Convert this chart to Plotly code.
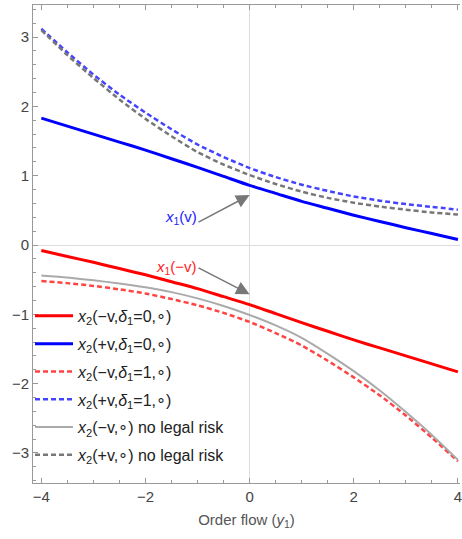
import plotly.graph_objects as go

# ---- data ----
y1 = [-4, -3.5, -3, -2.5, -2, -1.5, -1, -0.5, 0, 0.5, 1, 1.5, 2, 2.5, 3, 3.5, 4]

x2_minus_d0 = [-0.08, -0.165, -0.25, -0.34, -0.43, -0.53, -0.63, -0.745, -0.86,
               -0.99, -1.12, -1.245, -1.37, -1.485, -1.60, -1.715, -1.83]
x2_plus_d0 = [1.83, 1.715, 1.60, 1.485, 1.37, 1.245, 1.12, 0.99, 0.86,
              0.745, 0.63, 0.53, 0.43, 0.34, 0.25, 0.165, 0.08]
x2_minus_d1 = [-0.52, -0.55, -0.59, -0.64, -0.70, -0.78, -0.87, -0.98, -1.11,
               -1.27, -1.45, -1.67, -1.91, -2.17, -2.46, -2.78, -3.12]
x2_plus_d1 = [3.12, 2.78, 2.46, 2.17, 1.91, 1.67, 1.45, 1.27, 1.11,
              0.98, 0.87, 0.78, 0.70, 0.64, 0.59, 0.55, 0.51]
x2_minus_nolegal = [-0.44, -0.47, -0.51, -0.555, -0.61, -0.68, -0.77, -0.88, -1.01,
                    -1.16, -1.34, -1.57, -1.82, -2.10, -2.41, -2.74, -3.10]
x2_plus_nolegal = [3.10, 2.74, 2.41, 2.10, 1.82, 1.57, 1.34, 1.16, 1.01,
                   0.88, 0.77, 0.68, 0.61, 0.555, 0.51, 0.47, 0.44]

legend_names = [
    "<i>x</i><sub>2</sub>(−v,<i>δ</i><sub>1</sub>=0,∘)",
    "<i>x</i><sub>2</sub>(+v,<i>δ</i><sub>1</sub>=0,∘)",
    "<i>x</i><sub>2</sub>(−v,<i>δ</i><sub>1</sub>=1,∘)",
    "<i>x</i><sub>2</sub>(+v,<i>δ</i><sub>1</sub>=1,∘)",
    "<i>x</i><sub>2</sub>(−v,∘) no legal risk",
    "<i>x</i><sub>2</sub>(+v,∘) no legal risk",
]
x_ticks = [-4, -2, 0, 2, 4]
y_ticks = [-3, -2, -1, 0, 1, 2, 3]

FONT = "Liberation Sans, Arial, sans-serif"

series = [
    (x2_minus_d0, "#ff0000", 3, "solid"),
    (x2_plus_d0, "#0000ff", 3, "solid"),
    (x2_minus_d1, "#ff4444", 2.5, "5px,3px"),
    (x2_plus_d1, "#4444ff", 2.5, "5px,3px"),
    (x2_minus_nolegal, "#aaaaaa", 2, "solid"),
    (x2_plus_nolegal, "#777777", 2.5, "5px,3px"),
]

fig = go.Figure()
for i, (vals, col, w, dash) in enumerate(series):
    fig.add_trace(go.Scatter(
        x=y1, y=vals, mode="lines", name=legend_names[i],
        legendgroup=f"g{i}",
        line=dict(color=col, width=w, dash=dash, shape="spline", smoothing=0.6),
    ))

arrow_col = "#777777"
fig.add_annotation(x=0.0, y=0.72, ax=-1.01, ay=0.32, xref="x", yref="y",
                   axref="x", ayref="y", text="", showarrow=True,
                   arrowhead=2, arrowsize=1.8, arrowwidth=1.5, arrowcolor=arrow_col)
fig.add_annotation(x=0.0, y=-0.71, ax=-1.01, ay=-0.32, xref="x", yref="y",
                   axref="x", ayref="y", text="", showarrow=True,
                   arrowhead=2, arrowsize=1.8, arrowwidth=1.5, arrowcolor=arrow_col)
fig.add_annotation(x=-1.31, y=0.39, xref="x", yref="y", showarrow=False,
                   text="<i>x</i><sub>1</sub>(v)",
                   font=dict(family=FONT, size=15, color="#2222ff"))
fig.add_annotation(x=-1.41, y=-0.32, xref="x", yref="y", showarrow=False,
                   text="<i>x</i><sub>1</sub>(−v)",
                   font=dict(family=FONT, size=15, color="#ff2222"))

axis_col = "#999999"
fig.update_layout(
    width=462, height=539,
    margin=dict(l=33, r=0, t=5, b=56),
    plot_bgcolor="white", paper_bgcolor="white",
    font=dict(family=FONT, size=15, color="#444444"),
    showlegend=True,
    legend=dict(
        x=-0.007, y=0.385, xanchor="left", yanchor="top",
        bgcolor="rgba(0,0,0,0)", itemwidth=38,
        font=dict(family=FONT, size=16, color="#222222"),
        tracegroupgap=4,
    ),
    xaxis=dict(
        range=[-4.16, 4.04], tickmode="array", tickvals=x_ticks,
        ticks="inside", ticklen=5, tickcolor=axis_col, tickwidth=1,
        ticklabeloverflow="allow",
        minor=dict(dtick=0.5, ticks="inside", ticklen=3, tickcolor=axis_col),
        showline=True, linecolor=axis_col, linewidth=1, mirror="ticks",
        showgrid=False, zeroline=True, zerolinecolor="#dddddd", zerolinewidth=1,
        title=dict(text="Order flow (<i>y</i><sub>1</sub>)",
                   font=dict(family=FONT, size=15, color="#555555"), standoff=10),
        tickfont=dict(family=FONT, size=15, color="#444444"),
    ),
    yaxis=dict(
        range=[-3.434, 3.463], tickmode="array", tickvals=y_ticks,
        ticks="inside", ticklen=5, tickcolor=axis_col, tickwidth=1,
        minor=dict(dtick=0.2, ticks="inside", ticklen=3, tickcolor=axis_col),
        showline=True, linecolor=axis_col, linewidth=1, mirror=False,
        showgrid=False, zeroline=True, zerolinecolor="#dddddd", zerolinewidth=1,
        tickfont=dict(family=FONT, size=15, color="#444444"),
    ),
)

fig.write_html("out.html")
